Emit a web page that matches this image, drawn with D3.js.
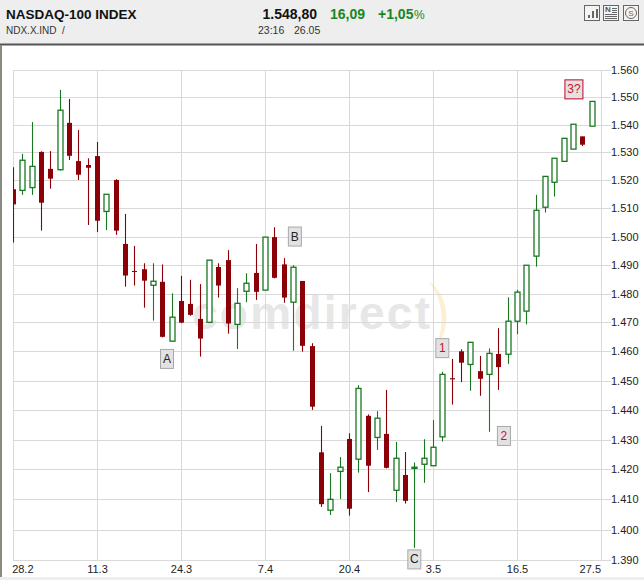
<!DOCTYPE html>
<html>
<head>
<meta charset="utf-8">
<script src="https://cdn.jsdelivr.net/npm/d3@7"></script>
<style>
html, body { margin: 0; padding: 0; background: #fff; }
svg { display: block; }
text { font-family: "Liberation Sans", Arial, sans-serif; }
</style>
</head>
<body>
<div id="chart"></div>
<script>
// one entry per trading day
const opens = [1516.8,1516.4,1517.4,1530.2,1524.1,1523.8,1540.7,1526.9,1525.5,1528.7,1508.9,1520.1,1497.4,1487.9,1488.5,1482.9,
  1484.1,1463.5,1477.4,1476.4,1471.2,1470,1489.3,1491.7,1469.3,1480.8,1487.2,1481.2,1499.8,1490.2,1477,1484.4,
  1461.8,1425.7,1406.4,1419.3,1430.2,1423.4,1438,1430.7,1431.9,1413,1418.1,1420.3,1421.7,1421.2,1430.9,1450.8,
  1460,1455.5,1453.2,1452.1,1459.1,1459,1470.4,1473.9,1493.1,1510.4,1519.3,1526.8,1531.2,1535.8,1539.5];
const highs = [1524.7,1529.5,1541,1530.4,1530.5,1552.7,1549.4,1538.1,1527.9,1533.8,1515,1520.4,1508,1496.7,1490.6,1490.6,
  1490.2,1480.1,1486.2,1484.8,1483.3,1491.7,1490.6,1495.2,1481.9,1487.1,1497.4,1499.8,1503.3,1492.4,1489.9,1484.4,
  1462.8,1434.6,1418.7,1424.1,1432.1,1448.4,1438.5,1439.6,1446.8,1429.2,1425.8,1422.3,1430.1,1436.6,1453,1457.4,
  1460.7,1463.1,1458.4,1461,1468,1478.7,1481.3,1489.9,1514.8,1521.4,1527.9,1535.1,1540.2,1535.8,1548.5];
const lows = [1497.9,1514.8,1514.8,1502.1,1517,1523.5,1527.3,1520.1,1504.1,1501.6,1502.3,1500.6,1482.4,1482.8,1475.1,1470.6,
  1464.8,1463.4,1469.7,1472.3,1458.2,1470,1478.6,1466.1,1460.8,1477,1477.8,1481.2,1485.3,1476.8,1460.2,1459.9,
  1440,1407.5,1404.8,1410.1,1404.6,1418.9,1412.4,1426.5,1420.3,1409.1,1408.6,1394,1415.5,1421.2,1429.3,1441.8,
  1449.5,1446.5,1444.8,1432.6,1446.8,1455.7,1465.9,1469.3,1489.4,1508.5,1514.2,1526.8,1531.2,1532.3,1539.5];
const closes = [1511.4,1527.2,1525,1512,1520.6,1545.3,1528.8,1522,1524.5,1505.6,1515,1502.1,1486.3,1487.6,1484.5,1484.3,
  1465,1471.8,1469.9,1472.6,1464.4,1491.7,1482.8,1469.6,1476.6,1483.6,1480.6,1499.8,1485.5,1478.6,1489.2,1461.9,
  1441.1,1408.4,1410,1420.7,1406.9,1447.3,1421.2,1437.2,1420.5,1423.7,1409.5,1420.7,1423.7,1427.4,1452.1,1450.4,
  1456.1,1463.1,1450.6,1459.3,1454.6,1470.4,1480.5,1489.9,1509.3,1521.4,1527.9,1535.1,1540.2,1532.8,1548.5];

const priceTicks = [1560,1550,1540,1530,1520,1510,1500,1490,1480,1470,1460,1450,1440,1430,1420,1410,1400,1390];
const gridDays = [0,9,18,27,36,45,54,63];
const dateDays = [1,9,18,27,36,45,54,61.8];
const dateLabels = ['28.2','11.3','24.3','7.4','20.4','3.5','16.5','27.5'];

// wave count boxes, placed by day and price
const waveLabels = ['A','B','C','1','2','3?'];
const waveDays = [16.5,30.2,43,46,52.6,60.1];
const wavePrices = [1457.4,1500,1390.2,1461.1,1431.2,1552.9];

const width = 644, height = 580;
const plotLeft = 13, plotRight = 601, plotTop = 70, plotBottom = 560;

const svg = d3.select('#chart')
    .append('svg')
    .attr('width', width)
    .attr('height', height);

let scaleX = d3.scaleLinear().domain([0,63]).range([plotLeft,plotRight]);
let scaleY = d3.scaleLog().domain([1390,1560]).range([plotBottom,plotTop]);

const deLocale = d3.formatLocale({decimal: ',', thousands: '.', grouping: [3], currency: ['','']});

// header bar
svg.append('rect').attr('width', width).attr('height', height).attr('fill', '#fff');
svg.append('rect').attr('width', width).attr('height', 44).attr('fill', '#eeeeee');
svg.append('rect').attr('y', 43.5).attr('width', width).attr('height', 2).attr('fill', '#555');
svg.append('rect').attr('y', 45).attr('width', 2).attr('height', height-45).attr('fill', '#8a8a80');
svg.append('rect').attr('y', 577).attr('width', width).attr('height', 3).attr('fill', '#eeeeee');

function label(x, y, str, size, weight, color, anchor) {
    return svg.append('text')
        .attr('x', x)
        .attr('y', y)
        .attr('font-size', size)
        .attr('font-weight', weight)
        .attr('fill', color)
        .attr('text-anchor', anchor || 'start')
        .text(str);
}

label(6, 19, 'NASDAQ-100 INDEX', 13.5, 'bold', '#111');
label(6, 34, 'NDX.X.IND', 10, 'normal', '#333');
label(62, 34, '/', 10, 'normal', '#333');
label(317, 19, '1.548,80', 14, 'bold', '#111', 'end');
label(258, 34, '23:16', 10.5, 'normal', '#333');
label(294, 34, '26.05', 10.5, 'normal', '#333');
label(330, 19, '16,09', 14, 'bold', '#17871f');
label(378, 19, '+1,05', 14, 'bold', '#17871f');
label(414, 19, '%', 12, 'normal', '#17871f');

// the three buttons top right
const icons = svg.append('g').attr('fill', 'none').attr('stroke', '#666');
[584,603,623].forEach(x=>{
    icons.append('rect').attr('x', x+.5).attr('y', 5.5).attr('width', 15).attr('height', 15).attr('fill', '#f4f4f4');
});
[[588,15],[592,11],[596,9]].forEach(b=>{
    svg.append('rect').attr('x', b[0]).attr('y', b[1]).attr('width', 2).attr('height', 18-b[1]).attr('fill', '#666');
});
label(605, 12, 'N', 8, 'bold', '#555');
[8,10,12].forEach(y=>icons.append('line').attr('x1', 612).attr('x2', 617).attr('y1', y+.5).attr('y2', y+.5));
[14,16,18].forEach(y=>icons.append('line').attr('x1', 605).attr('x2', 617).attr('y1', y+.5).attr('y2', y+.5));
icons.append('circle').attr('cx', 631).attr('cy', 13).attr('r', 5.5);
label(631, 16, 'S', 8, 'normal', '#666', 'middle');

// watermark
svg.append('text')
    .attr('x', 192)
    .attr('y', 329)
    .attr('font-size', 46)
    .attr('font-weight', 'bold')
    .attr('fill', '#e7e7e7')
    .attr('textLength', 238)
    .text('comdirect');
svg.append('path')
    .attr('d', 'M428,281 C450,295 452,330 436,346 C445,325 444,300 428,281 Z')
    .attr('fill', '#fdf0d2');

// grid
let gridColor = '#d9d9d9';
svg.append('g').selectAll('line')
    .data(priceTicks)
    .enter()
    .append('line')
    .attr('x1', plotLeft)
    .attr('x2', 611)
    .attr('y1', d=>Math.round(scaleY(d))+.5)
    .attr('y2', d=>Math.round(scaleY(d))+.5)
    .style('stroke', gridColor);
svg.append('g').selectAll('line')
    .data(gridDays)
    .enter()
    .append('line')
    .attr('x1', d=>Math.round(scaleX(d))+.5)
    .attr('x2', d=>Math.round(scaleX(d))+.5)
    .attr('y1', plotTop)
    .attr('y2', plotBottom)
    .style('stroke', gridColor);

// axes, only the labels are visible
let yAxis = d3.axisRight(scaleY).tickValues(priceTicks).tickSize(0).tickPadding(0).tickFormat(deLocale.format(',d'));
let xAxis = d3.axisBottom(scaleX).tickValues(dateDays).tickSize(0).tickPadding(0).tickFormat((d,i)=>dateLabels[i]);

let yAxisGroup = svg.append('g').attr('transform', 'translate(611,0)').call(yAxis);
let xAxisGroup = svg.append('g').attr('transform', 'translate(0,' + (plotBottom+5) + ')').call(xAxis);
[yAxisGroup, xAxisGroup].forEach(g=>{
    g.select('.domain').remove();
    g.selectAll('text').attr('fill', '#222').style('font-size', '11px').style('font-family', '"Liberation Sans", Arial, sans-serif');
});

// candles
const upColor = '#17781f', downColor = '#8c0008';
svg.append('clipPath').attr('id', 'plotClip')
    .append('rect').attr('x', plotLeft).attr('y', plotTop).attr('width', 600).attr('height', plotBottom-plotTop);

const days = d3.range(closes.length);
const candles = svg.append('g').attr('clip-path', 'url(#plotClip)')
    .selectAll('g')
    .data(days)
    .enter()
    .append('g')
    .attr('transform', i=>'translate(' + Math.round(scaleX(i)) + ',0)');

candles.append('line')
    .attr('x1', .5)
    .attr('x2', .5)
    .attr('y1', i=>scaleY(highs[i]))
    .attr('y2', i=>scaleY(lows[i]))
    .style('stroke', i=>closes[i]>=opens[i] ? upColor : downColor)
    .style('stroke-width', 1.1);

candles.append('rect')
    .attr('x', -2)
    .attr('width', 5)
    .attr('y', i=>scaleY(Math.max(opens[i],closes[i])))
    .attr('height', i=>Math.max(1,Math.abs(scaleY(opens[i])-scaleY(closes[i]))))
    .style('fill', i=>closes[i]>=opens[i] ? '#fff' : downColor)
    .style('stroke', i=>closes[i]>=opens[i] ? upColor : 'none')
    .style('stroke-width', 1.3);

// wave count boxes
const waves = svg.append('g').selectAll('g')
    .data(waveLabels)
    .enter()
    .append('g')
    .attr('transform', (d,i)=>'translate(' + scaleX(waveDays[i]) + ',' + scaleY(wavePrices[i]) + ')');

waves.append('rect')
    .attr('x', d=>d.length>1 ? -9 : -6.5)
    .attr('y', -9.5)
    .attr('width', d=>d.length>1 ? 18 : 13)
    .attr('height', 19)
    .style('fill', '#e2e2e2')
    .style('stroke', d=>d=='3?' ? '#c4002a' : '#a8a8a8');

waves.append('text')
    .attr('y', 4)
    .attr('text-anchor', 'middle')
    .attr('font-size', 12)
    .attr('fill', d=>/[ABC]/.test(d) ? '#222' : '#d0102a')
    .text(d=>d);
</script>
</body>
</html>
